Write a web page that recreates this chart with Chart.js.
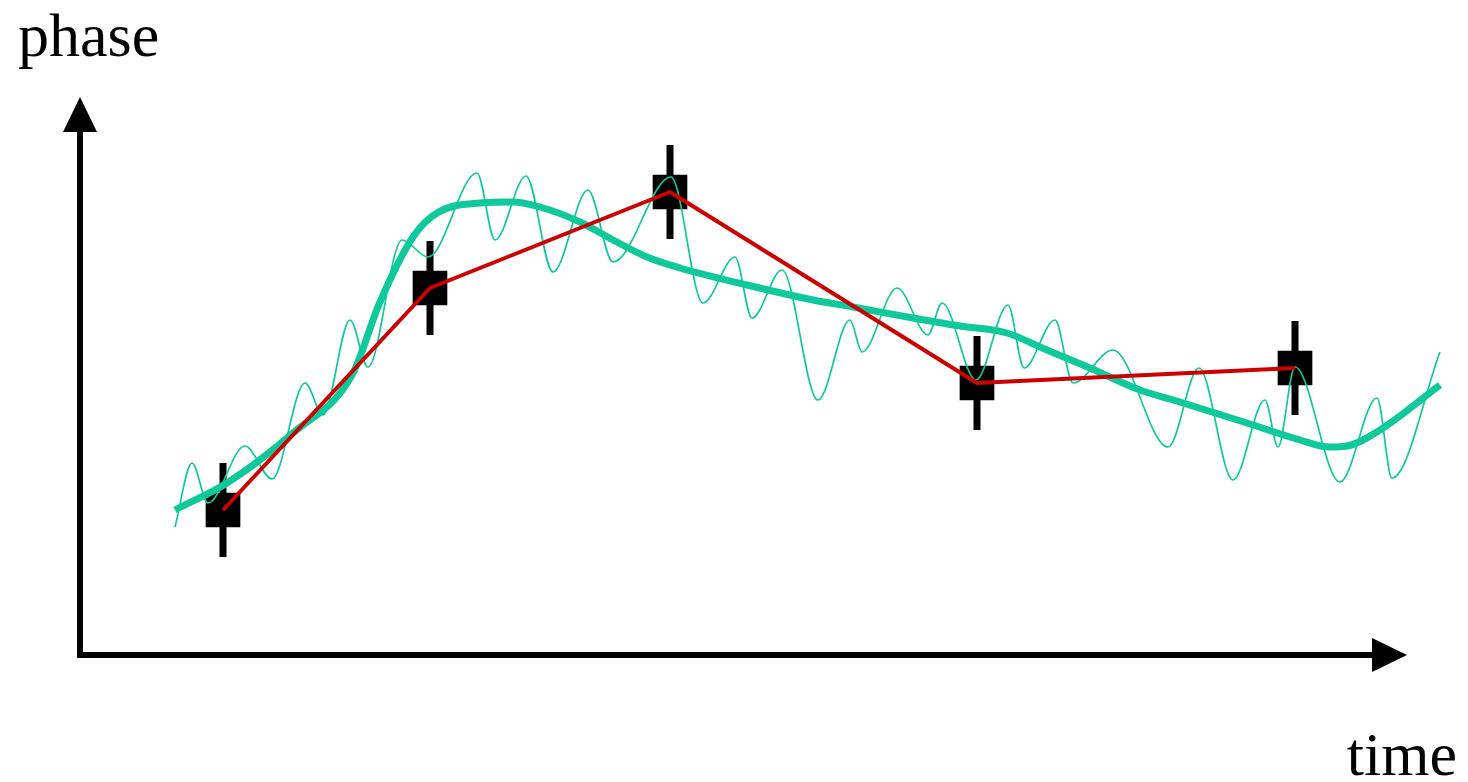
<!DOCTYPE html>
<html>
<head>
<meta charset="utf-8">
<title>phase vs time</title>
<script src="https://cdn.jsdelivr.net/npm/chart.js@4.4.1/dist/chart.umd.min.js"></script>
<style>
  html, body { margin: 0; padding: 0; background: #ffffff; }
  #wrap { position: relative; width: 1468px; height: 782px; }
</style>
</head>
<body>
<div id="wrap"><canvas id="chart"></canvas></div>
<script>
// Measured samples: time, phase and their uncertainty
const sampleTime  = [1.43, 3.50, 5.90, 8.97, 12.15];
const samplePhase = [1.45, 3.67, 4.63, 2.72, 2.87];
const sampleError = [0.47, 0.47, 0.47, 0.47, 0.47];

// Slow underlying phase trend
const trendTime  = [0.95, 1.47, 2.13, 2.72, 3.00, 3.33, 3.57, 4.00, 4.33, 4.60, 5.00, 5.33, 5.67, 6.00,
                    6.67, 7.33, 7.73, 8.33, 8.80, 9.27, 9.60, 10.10, 10.60, 11.00, 11.67, 12.20, 12.50, 12.67, 13.00, 13.60];
const trendPhase = [1.45, 1.72, 2.22, 2.80, 3.53, 4.18, 4.42, 4.52, 4.53, 4.48, 4.33, 4.15, 3.98, 3.87,
                    3.70, 3.55, 3.48, 3.37, 3.29, 3.22, 3.08, 2.87, 2.65, 2.53, 2.32, 2.15, 2.08, 2.09, 2.25, 2.70];

// Fast fluctuating phase (turning points)
const fastTime  = [0.95, 1.12, 1.28, 1.65, 1.92, 2.25, 2.43, 2.70, 2.88, 3.22, 3.48, 3.97, 4.15, 4.46, 4.73,
                   5.08, 5.33, 5.91, 6.23, 6.55, 6.72, 7.02, 7.38, 7.70, 7.82, 8.17, 8.48, 8.62, 8.96, 9.28,
                   9.44, 9.75, 9.93, 10.33, 10.88, 11.19, 11.53, 11.85, 11.98, 12.15, 12.60, 12.97, 13.12, 13.60];
const fastPhase = [1.28, 1.92, 1.52, 2.09, 1.76, 2.72, 2.40, 3.35, 2.88, 4.15, 3.98, 4.82, 4.15, 4.79, 3.83,
                   4.65, 3.93, 4.78, 3.52, 3.98, 3.37, 3.85, 2.55, 3.35, 3.03, 3.67, 3.20, 3.52, 2.75, 3.50,
                   2.87, 3.35, 2.72, 3.05, 2.08, 2.87, 1.75, 2.55, 2.08, 2.88, 1.73, 2.57, 1.77, 3.03];

// Axis extents (in data units)
const timeMax  = 13.88;
const phaseMax = 6.55;
const axisLabels = ['time', 'phase'];

const pts = (xs, ys) => xs.map((x, i) => ({ x: x, y: ys[i] }));

const TEAL = '#0fc99a';
const RED = '#cc0000';

// Draws the arrowed axes, their names and the error bars
const decorations = {
  id: 'decorations',
  beforeDatasetsDraw(chart) {
    const ctx = chart.ctx;
    const xs = chart.scales.x, ys = chart.scales.y;
    const ox = xs.getPixelForValue(0);
    const oy = ys.getPixelForValue(0);
    const yTip = 97, xTip = 1407, head = 35, half = 17;

    ctx.save();
    ctx.fillStyle = '#000';
    ctx.strokeStyle = '#000';
    ctx.lineWidth = 6;
    ctx.lineCap = 'butt';
    // vertical axis
    ctx.beginPath();
    ctx.moveTo(ox, oy + 3);
    ctx.lineTo(ox, yTip + head);
    ctx.stroke();
    ctx.beginPath();
    ctx.moveTo(ox, yTip);
    ctx.lineTo(ox - half, yTip + head);
    ctx.lineTo(ox + half, yTip + head);
    ctx.closePath();
    ctx.fill();
    // horizontal axis
    ctx.beginPath();
    ctx.moveTo(ox - 3, oy);
    ctx.lineTo(xTip - head, oy);
    ctx.stroke();
    ctx.beginPath();
    ctx.moveTo(xTip, oy);
    ctx.lineTo(xTip - head, oy - half);
    ctx.lineTo(xTip - head, oy + half);
    ctx.closePath();
    ctx.fill();

    // axis names
    ctx.font = '62px "Liberation Serif", "Times New Roman", serif';
    ctx.textBaseline = 'alphabetic';
    ctx.textAlign = 'left';
    ctx.fillText(axisLabels[1], ox - 62, 56);
    ctx.textAlign = 'right';
    ctx.fillText(axisLabels[0], 1457, 775);

    // error bars
    ctx.lineWidth = 7;
    sampleTime.forEach((t, i) => {
      const px = xs.getPixelForValue(t);
      ctx.beginPath();
      ctx.moveTo(px, ys.getPixelForValue(samplePhase[i] + sampleError[i]));
      ctx.lineTo(px, ys.getPixelForValue(samplePhase[i] - sampleError[i]));
      ctx.stroke();
    });
    ctx.restore();
  }
};

new Chart(document.getElementById('chart'), {
  type: 'line',
  data: {
    datasets: [
      {
        label: 'samples',
        data: pts(sampleTime, samplePhase),
        showLine: false,
        pointStyle: 'rect',
        pointRadius: 24.5,
        backgroundColor: '#000',
        borderColor: '#000',
        borderWidth: 0,
        order: 4
      },
      {
        label: 'fast phase',
        data: pts(fastTime, fastPhase),
        borderColor: TEAL,
        borderWidth: 1.7,
        pointRadius: 0,
        cubicInterpolationMode: 'monotone',
        order: 3
      },
      {
        label: 'phase trend',
        data: pts(trendTime, trendPhase),
        borderColor: TEAL,
        borderWidth: 7,
        pointRadius: 0,
        cubicInterpolationMode: 'monotone',
        borderCapStyle: 'butt',
        order: 2
      },
      {
        label: 'sampled phase',
        data: pts(sampleTime, samplePhase),
        borderColor: RED,
        borderWidth: 4,
        pointRadius: 0,
        tension: 0,
        borderJoinStyle: 'round',
        order: 1
      }
    ]
  },
  options: {
    responsive: true,
    maintainAspectRatio: false,
    animation: false,
    events: [],
    layout: { autoPadding: false, padding: { left: 80, right: 0, top: 0, bottom: 127 } },
    scales: {
      x: { type: 'linear', min: 0, max: timeMax, display: false },
      y: { type: 'linear', min: 0, max: phaseMax, display: false }
    },
    plugins: {
      legend: { display: false },
      tooltip: { enabled: false },
      title: { display: false }
    },
    datasets: { line: { clip: false } }
  },
  plugins: [decorations]
});
</script>
</body>
</html>
